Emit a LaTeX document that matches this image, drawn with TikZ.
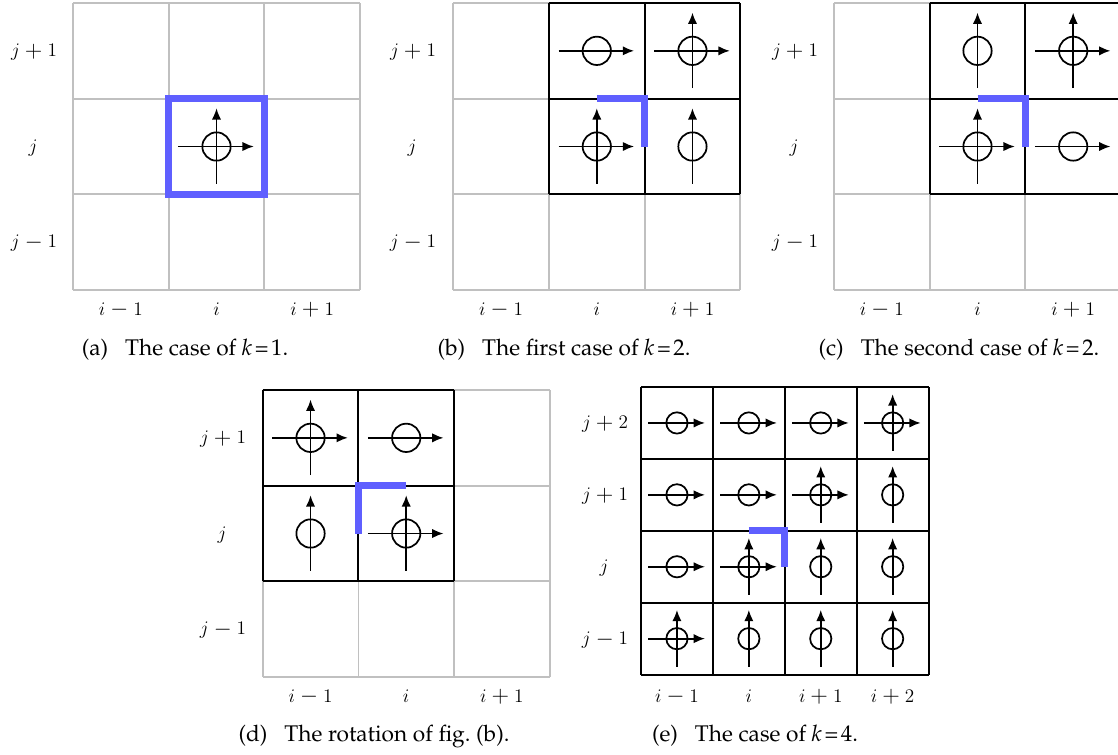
\documentclass[tikz,border=0pt]{standalone}
\usepackage[T1,TU]{fontenc}
\usepackage{graphicx}
\usetikzlibrary{arrows.meta}
\definecolor{gridgray}{RGB}{192,192,192}
\definecolor{hlblue}{RGB}{95,95,255}
\newcommand\capfont{\fontencoding{T1}\fontfamily{ppl}\fontsize{17}{20}\selectfont}
\newcommand\labfont{\fontsize{13.5}{16}\selectfont}
\newcommand\plbl[3]{$#1$\hspace{0.28em}\raisebox{-0.05em}{\scalebox{1.2}{$#2$}}\hspace{0.28em}$#3$}
\tikzset{
  gridln/.style={draw=gridgray,line width=1.3pt,line cap=square},
  boxln/.style={draw=black,line width=1.4pt,line cap=square},
  hlpath/.style={draw=hlblue,line width=5pt,line join=miter},
  mkline/.style={line width=1.3pt},
  arrowtip/.style={-{Latex[length=8.5pt,width=7pt]}},
  lab/.style={font=\labfont,inner sep=0pt,anchor=base},
  captxt/.style={font=\capfont,inner sep=0pt,anchor=base},
  hcell/.pic={\draw[mkline] (0,0) circle[radius=0.148]; \draw[mkline,arrowtip] (-0.40,0) -- (0.39,0);},
  vcell/.pic={\draw[mkline] (0,0) circle[radius=0.148]; \draw[mkline,arrowtip] (0,0.39) -- (0,-0.40);},
  bcell/.pic={\draw[mkline] (0,0) circle[radius=0.148]; \draw[mkline,arrowtip] (-0.40,0) -- (0.39,0); \draw[mkline,arrowtip] (0,0.39) -- (0,-0.40);},
}
\newcommand\graygrid[4]{\foreach \k in {0,...,#4}{\draw[gridln] ({#1+\k*#3},{#2}) -- ({#1+\k*#3},{#2+#4*#3}); \draw[gridln] ({#1},{#2+\k*#3}) -- ({#1+#4*#3},{#2+\k*#3});}}
\newcommand\blackblock[5]{%
  \foreach \k in {0,...,#4}{\draw[boxln] ({#1+\k*#3},{#2}) -- ({#1+\k*#3},{#2+#5*#3});}
  \foreach \k in {0,...,#5}{\draw[boxln] ({#1},{#2+\k*#3}) -- ({#1+#4*#3},{#2+\k*#3});}}
\newcommand\mkcell[6]{\pic[scale=#3] at ({#1+(#4+0.5)*#3},{#2+(#5+0.5)*#3}) {#6};}
\newcommand\kcap[1]{\textit{k}\kern2pt=\kern2pt#1}
\begin{document}
\begin{tikzpicture}[x=0.75pt,y=-0.75pt]
\useasboundingbox (0,0) rectangle (1118,754);
% ---------------- (a)
\graygrid{73}{3}{95.67}{3}
\draw[hlpath] (168.67,98.67) rectangle (264.33,194.33);
\mkcell{73}{3}{95.67}{1}{1}{bcell}
\node[lab] (a-r0) at (34,56.5) {\plbl{j}{+}{1}};
\node[lab] (a-r1) at (33,152.2) {$j$};
\node[lab] (a-r2) at (34,247.9) {\plbl{j}{-}{1}};
\node[lab] (a-c0) at (120.8,315) {\plbl{i}{-}{1}};
\node[lab] (a-c1) at (216.5,315) {$i$};
\node[lab] (a-c2) at (312.2,315) {\plbl{i}{+}{1}};
\node[captxt] (a-cap) at (185,355) {(a)\hspace{0.75em}The case of \kcap{1}.};
% ---------------- (b)
\graygrid{453.3}{3}{95.67}{3}
\blackblock{549}{3}{95.67}{2}{2}
\mkcell{453.3}{3}{95.67}{1}{0}{hcell}
\mkcell{453.3}{3}{95.67}{2}{0}{bcell}
\mkcell{453.3}{3}{95.67}{1}{1}{bcell}
\mkcell{453.3}{3}{95.67}{2}{1}{vcell}
\draw[hlpath] (596.8,98.67) -- (644.6,98.67) -- (644.6,146.5);
\node[lab] (b-r0) at (413,56.5) {\plbl{j}{+}{1}};
\node[lab] (b-r1) at (412,152.2) {$j$};
\node[lab] (b-r2) at (413,247.9) {\plbl{j}{-}{1}};
\node[lab] (b-c0) at (501.1,315) {\plbl{i}{-}{1}};
\node[lab] (b-c1) at (596.8,315) {$i$};
\node[lab] (b-c2) at (692.5,315) {\plbl{i}{+}{1}};
\node[captxt] (b-cap) at (564,355) {(b)\hspace{0.75em}The first case of \kcap{2}.};
% ---------------- (c)
\graygrid{834}{3}{95.67}{3}
\blackblock{929.67}{3}{95.67}{2}{2}
\mkcell{834}{3}{95.67}{1}{0}{vcell}
\mkcell{834}{3}{95.67}{2}{0}{bcell}
\mkcell{834}{3}{95.67}{1}{1}{bcell}
\mkcell{834}{3}{95.67}{2}{1}{hcell}
\draw[hlpath] (977.5,98.67) -- (1025.3,98.67) -- (1025.3,146.5);
\node[lab] (c-r0) at (795,56.5) {\plbl{j}{+}{1}};
\node[lab] (c-r1) at (794,152.2) {$j$};
\node[lab] (c-r2) at (795,247.9) {\plbl{j}{-}{1}};
\node[lab] (c-c0) at (881.8,315) {\plbl{i}{-}{1}};
\node[lab] (c-c1) at (977.5,315) {$i$};
\node[lab] (c-c2) at (1073.2,315) {\plbl{i}{+}{1}};
\node[captxt] (c-cap) at (959,355) {(c)\hspace{0.75em}The second case of \kcap{2}.};
% ---------------- (d)
\graygrid{262.7}{390}{95.67}{3}
\blackblock{262.7}{390}{95.67}{2}{2}
\mkcell{262.7}{390}{95.67}{0}{0}{bcell}
\mkcell{262.7}{390}{95.67}{1}{0}{hcell}
\mkcell{262.7}{390}{95.67}{0}{1}{vcell}
\mkcell{262.7}{390}{95.67}{1}{1}{bcell}
\draw[hlpath] (358.4,533.5) -- (358.4,485.67) -- (406.2,485.67);
\node[lab] (d-r0) at (223,443.5) {\plbl{j}{+}{1}};
\node[lab] (d-r1) at (222,539.2) {$j$};
\node[lab] (d-r2) at (223,634.9) {\plbl{j}{-}{1}};
\node[lab] (d-c0) at (310.5,702) {\plbl{i}{-}{1}};
\node[lab] (d-c1) at (406.2,702) {$i$};
\node[lab] (d-c2) at (501.9,702) {\plbl{i}{+}{1}};
\node[captxt] (d-cap) at (374,741) {(d)\hspace{0.75em}The rotation of fig.~(b).};
% ---------------- (e)
\blackblock{641}{387}{71.9}{4}{4}
\mkcell{641}{387}{71.9}{0}{0}{hcell}
\mkcell{641}{387}{71.9}{1}{0}{hcell}
\mkcell{641}{387}{71.9}{2}{0}{hcell}
\mkcell{641}{387}{71.9}{3}{0}{bcell}
\mkcell{641}{387}{71.9}{0}{1}{hcell}
\mkcell{641}{387}{71.9}{1}{1}{hcell}
\mkcell{641}{387}{71.9}{2}{1}{bcell}
\mkcell{641}{387}{71.9}{3}{1}{vcell}
\mkcell{641}{387}{71.9}{0}{2}{hcell}
\mkcell{641}{387}{71.9}{1}{2}{bcell}
\mkcell{641}{387}{71.9}{2}{2}{vcell}
\mkcell{641}{387}{71.9}{3}{2}{vcell}
\mkcell{641}{387}{71.9}{0}{3}{bcell}
\mkcell{641}{387}{71.9}{1}{3}{vcell}
\mkcell{641}{387}{71.9}{2}{3}{vcell}
\mkcell{641}{387}{71.9}{3}{3}{vcell}
\draw[hlpath] (748.85,530.8) -- (784.8,530.8) -- (784.8,566.75);
\node[lab] (e-r0) at (605,428.6) {\plbl{j}{+}{2}};
\node[lab] (e-r1) at (605,500.5) {\plbl{j}{+}{1}};
\node[lab] (e-r2) at (604,572.4) {$j$};
\node[lab] (e-r3) at (605,644.3) {\plbl{j}{-}{1}};
\node[lab] (e-c0) at (676.95,702) {\plbl{i}{-}{1}};
\node[lab] (e-c1) at (748.85,702) {$i$};
\node[lab] (e-c2) at (820.75,702) {\plbl{i}{+}{1}};
\node[lab] (e-c3) at (892.65,702) {\plbl{i}{+}{2}};
\node[captxt] (e-cap) at (755,741) {(e)\hspace{0.75em}The case of \kcap{4}.};
\end{tikzpicture}
\end{document}
